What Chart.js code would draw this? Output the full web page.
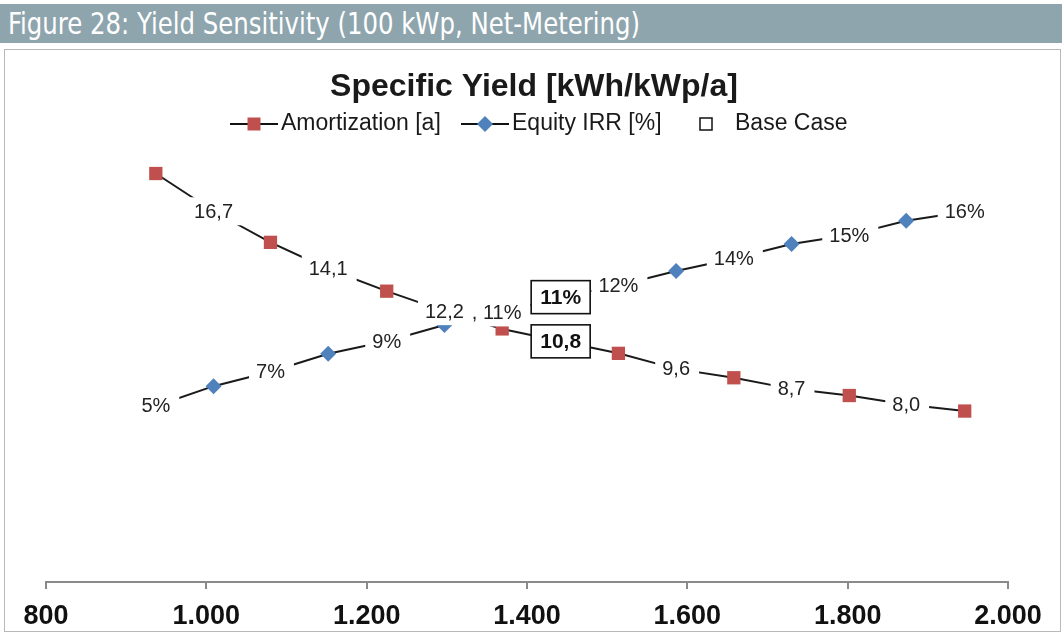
<!DOCTYPE html>
<html>
<head>
<meta charset="utf-8">
<script src="https://cdn.jsdelivr.net/npm/chart.js@4/dist/chart.umd.min.js"></script>
<style>
  html, body { margin: 0; padding: 0; background: #fff; }
  body { width: 1062px; height: 634px; position: relative; overflow: hidden; }
  #hdr { position: absolute; left: 0; top: 4px; width: 1062px; height: 39px; background: #8ea5ae; }
  #hdrText { position: absolute; left: 8px; top: 1px; color: #fff; font: 31px "DejaVu Sans Condensed", "DejaVu Sans", sans-serif; white-space: nowrap; transform-origin: 0 0; }
  #frame { position: absolute; left: 4px; top: 49px; width: 1055px; height: 581px; border: 1.5px solid #b8b8b8; }
  #c { position: absolute; left: 0; top: 0; }
</style>
</head>
<body>
<div id="hdr"><span id="hdrText">Figure 28: Yield Sensitivity (100 kWp, Net-Metering)</span></div>
<div id="frame"></div>
<canvas id="c" width="1062" height="634"></canvas>
<script>
// specific yield [kWh/kWp/a]
const yieldX = [937, 1009, 1080, 1152, 1225, 1297, 1369, 1442, 1514, 1586, 1658, 1730, 1802, 1873, 1946];
const amortization = [18.4, 16.7, 15.3, 14.1, 13.1, 12.2, 11.4, 10.84, 10.3, 9.6, 9.2, 8.7, 8.4, 8.0, 7.7];
const equityIrr = [5.4, 6.5, 7.3, 8.3, 9.0, 9.9, 10.6, 11.45, 12.1, 12.9, 13.6, 14.4, 14.9, 15.7, 16.2];
const amortLabels = ['', '16,7', '', '14,1', '', '12,2', '', '', '', '9,6', '', '8,7', '', '8,0', ''];
const irrLabels = ['5%', '', '7%', '', '9%', '', ', 11%', '', '12%', '', '14%', '', '15%', '', '16%'];
const baseIndex = 7;
const baseLabels = ['11%', '10,8'];
const xTicks = [800, 1000, 1200, 1400, 1600, 1800, 2000];

const RED = '#c0504d', BLUE = '#4f81bd';
const FONT = '"Liberation Sans", Arial, sans-serif';

// fit header text width
const ht = document.getElementById('hdrText');
ht.style.transform = 'scaleX(' + (632 / ht.getBoundingClientRect().width) + ')';

function pts(ys) {
  return yieldX.map((x, i) => ({ x: x, y: ys[i] }));
}
function radii(labels, r) {
  return labels.map((l, i) => (l || i === baseIndex) ? 0 : r);
}

function drawLabel(ctx, txt, x, y) {
  ctx.font = '20px ' + FONT;
  const main = txt.replace(/^, /, '');
  const wMain = ctx.measureText(main).width;
  const wAll = ctx.measureText(txt).width;
  const left = x + wMain / 2 - wAll;
  ctx.fillStyle = '#fff';
  ctx.fillRect(left - 7, y - 14, wAll + 16, 28);
  ctx.fillStyle = '#222';
  ctx.textAlign = 'left';
  ctx.textBaseline = 'middle';
  ctx.fillText(txt, left, y + 1);
}

function drawBox(ctx, txt, x, y) {
  ctx.fillStyle = '#fff';
  ctx.fillRect(x - 29.5, y - 16.5, 59, 33);
  ctx.lineWidth = 1.6;
  ctx.strokeStyle = '#111';
  ctx.strokeRect(x - 29.5, y - 16.5, 59, 33);
  ctx.font = 'bold 21px ' + FONT;
  ctx.fillStyle = '#111';
  ctx.textAlign = 'center';
  ctx.textBaseline = 'middle';
  ctx.fillText(txt, x, y + 1);
}

const decor = {
  id: 'decor',
  afterDatasetsDraw(chart) {
    const ctx = chart.ctx;
    ctx.save();
    const mA = chart.getDatasetMeta(0), mI = chart.getDatasetMeta(1);
    amortLabels.forEach((t, i) => { if (t) drawLabel(ctx, t, mA.data[i].x, mA.data[i].y); });
    irrLabels.forEach((t, i) => { if (t) drawLabel(ctx, t, mI.data[i].x, mI.data[i].y); });
    const bI = chart.getDatasetMeta(2).data[0], bA = chart.getDatasetMeta(3).data[0];
    drawBox(ctx, baseLabels[0], bI.x, bI.y);
    drawBox(ctx, baseLabels[1], bA.x, bA.y);
    ctx.restore();
  },
  afterDraw(chart) {
    const ctx = chart.ctx;
    ctx.save();
    ctx.fillStyle = '#1a1a1a';
    ctx.textAlign = 'center';
    ctx.textBaseline = 'middle';
    ctx.font = 'bold 32px ' + FONT;
    ctx.fillText('Specific Yield [kWh/kWp/a]', 534, 87);

    // legend
    const ly = 124;
    ctx.font = '23px ' + FONT;
    ctx.textAlign = 'left';
    ctx.strokeStyle = '#111';
    ctx.lineWidth = 2;
    ctx.beginPath(); ctx.moveTo(230, ly); ctx.lineTo(278, ly); ctx.stroke();
    ctx.fillStyle = RED; ctx.fillRect(247.5, ly - 6.5, 13, 13);
    ctx.fillStyle = '#1a1a1a'; ctx.fillText('Amortization [a]', 281, ly);
    ctx.beginPath(); ctx.moveTo(461, ly); ctx.lineTo(509, ly); ctx.stroke();
    ctx.fillStyle = BLUE;
    ctx.beginPath(); ctx.moveTo(485, ly - 8); ctx.lineTo(493, ly); ctx.lineTo(485, ly + 8); ctx.lineTo(477, ly); ctx.closePath(); ctx.fill();
    ctx.fillStyle = '#1a1a1a'; ctx.fillText('Equity IRR [%]', 512, ly);
    ctx.lineWidth = 1.5;
    ctx.strokeRect(700, ly - 6, 12, 12);
    ctx.fillText('Base Case', 735, ly);
    ctx.restore();
  }
};

new Chart(document.getElementById('c'), {
  type: 'line',
  data: {
    datasets: [
      {
        label: 'Amortization [a]', data: pts(amortization), yAxisID: 'yA',
        borderColor: '#1a1a1a', borderWidth: 2, pointStyle: 'rect',
        pointRadius: radii(amortLabels, 9.4), pointBackgroundColor: RED, pointBorderWidth: 0
      },
      {
        label: 'Equity IRR [%]', data: pts(equityIrr), yAxisID: 'yI',
        borderColor: '#1a1a1a', borderWidth: 2, pointStyle: 'rectRot',
        pointRadius: radii(irrLabels, 8), pointBackgroundColor: BLUE, pointBorderWidth: 0
      },
      {
        label: 'Base Case', data: [{ x: yieldX[baseIndex], y: equityIrr[baseIndex] }], yAxisID: 'yI',
        showLine: false, pointRadius: 0
      },
      {
        label: 'Base Case', data: [{ x: yieldX[baseIndex], y: amortization[baseIndex] }], yAxisID: 'yA',
        showLine: false, pointRadius: 0
      }
    ]
  },
  options: {
    responsive: false,
    animation: false,
    events: [],
    layout: { padding: { left: 46, right: 54, top: 138, bottom: 0 } },
    plugins: { legend: { display: false }, title: { display: false }, tooltip: { enabled: false } },
    scales: {
      x: {
        type: 'linear', min: 800, max: 2000,
        afterFit(s) { s.height = 52; },
        afterBuildTicks(s) { s.ticks = xTicks.map(v => ({ value: v })); },
        grid: { drawOnChartArea: false, drawTicks: true, tickLength: 7, color: '#8a8a8a', lineWidth: 2 },
        border: { display: true, color: '#8a8a8a', width: 2 },
        ticks: {
          padding: 11, color: '#111',
          font: { family: FONT, size: 27, weight: 'bold' },
          callback: v => v.toLocaleString('de-DE')
        }
      },
      yA: { display: false, min: 0, max: 20 },
      yI: { display: false, min: -4.39, max: 20.3 }
    }
  },
  plugins: [decor]
});
</script>
</body>
</html>
